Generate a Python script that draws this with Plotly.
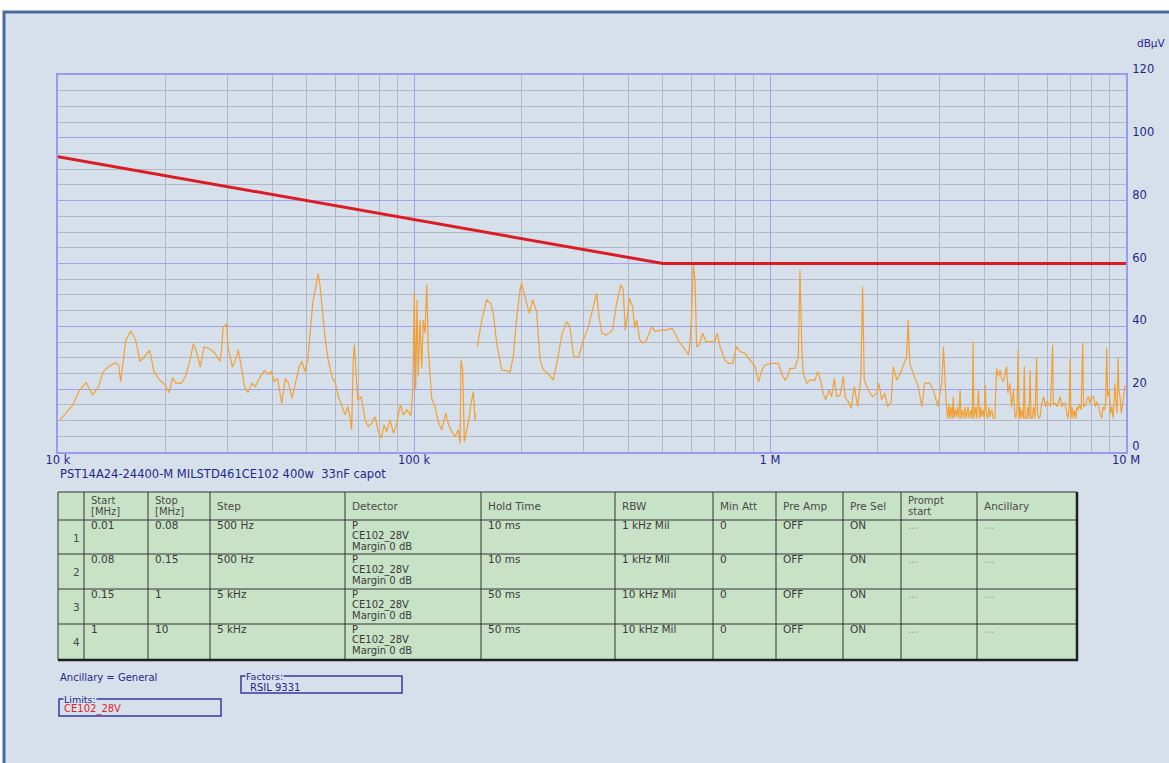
import plotly.graph_objs as go

W, H = 1169, 763
# plot area in page pixels
L, R, T, B = 58, 1126, 75, 452

# limit line CE102_28V (Hz, dBuV)
limit_freq = [1e4, 5e5, 1e7]
limit_db = [94, 60, 60]

# measured trace, band 1+2 (0.01 - 0.15 MHz), kHz
band12_khz = [10.1, 10.6, 11.0, 11.5, 12.0, 12.5, 13.0, 13.4, 13.9, 14.5,
              14.8, 15.0, 15.5, 16.0, 16.5, 17.0, 17.6, 18.1, 18.6, 19.3,
              20.0, 20.5, 21.0, 21.4, 22.2, 22.8, 23.5, 24.0, 24.5, 25.1,
              25.7, 26.8, 27.6, 28.5, 28.8, 29.1, 29.8, 30.0, 30.9, 31.8,
              32.1, 32.8, 33.5, 34.2, 35.0, 35.8, 37.0, 38.0, 39.0, 39.7,
              40.5, 41.4, 42.5, 43.5, 44.4, 45.4, 46.4, 47.6, 48.4, 49.4,
              50.3, 51.0, 52.0, 53.2, 53.8, 54.5, 55.2, 56.2, 57.4, 59.0,
              60.0, 61.3, 62.6, 64.0, 65.1, 66.1, 66.8, 67.5, 68.0, 68.6,
              69.5, 71.0, 72.9, 74.4, 76.0, 77.7, 79.4, 81.0, 82.4, 83.8,
              85.7, 87.6, 89.5, 91.5, 93.4, 95.5, 98.0, 99.2, 100.2, 101.1,
              102.0, 102.8, 104.0, 105.1, 106.2, 107.4, 108.6, 109.7, 112.1, 114.6,
              117.0, 119.6, 122.8, 124.8, 127.6, 130.3, 133.2, 134.7, 135.5, 137.0,
              138.5, 140.6, 143.0, 144.6, 146.8, 148.4, 149.0]
band12_db = [10.0, 12.8, 15.0, 19.7, 22.1, 18.1, 20.8, 25.6, 27.2, 28.4,
             27.7, 22.4, 35.6, 38.5, 35.9, 28.8, 30.9, 32.3, 25.6, 22.9,
             21.3, 18.9, 23.7, 21.9, 21.9, 24.0, 29.3, 34.4, 31.9, 27.0,
             33.5, 32.7, 31.4, 28.8, 32.5, 39.7, 40.7, 33.5, 27.0, 30.6,
             32.5, 26.1, 20.3, 18.9, 21.9, 20.8, 24.0, 25.9, 24.8, 25.6,
             22.4, 23.4, 15.5, 23.4, 21.9, 17.1, 21.9, 27.2, 28.8, 25.6,
             29.3, 36.7, 47.9, 53.7, 56.7, 52.6, 45.2, 36.7, 29.3, 23.4,
             22.4, 17.6, 15.0, 11.8, 14.4, 11.2, 7.0, 29.3, 34.1, 28.2,
             16.6, 17.6, 10.2, 8.1, 9.1, 11.2, 6.5, 4.4, 8.6, 6.5,
             10.2, 5.9, 9.1, 15.0, 11.8, 13.4, 11.5, 19.7, 51.0, 19.7,
             48.4, 24.0, 42.0, 26.6, 42.0, 37.8, 53.2, 32.5, 17.1, 14.4,
             9.7, 7.0, 12.3, 9.1, 6.5, 4.9, 7.0, 2.8, 29.3, 26.1,
             3.3, 7.0, 11.2, 15.5, 19.2, 10.2, 12.3]

# band 3 (0.15 - 1 MHz), kHz
band3_khz = [150.6, 155, 160, 164.2, 167, 170.7, 176.4, 182.2, 186, 190,
             194.5, 198.5, 200.6, 205, 210.8, 215.5, 221, 226, 231, 238,
             246, 253, 260, 268.5, 274, 281, 290, 299, 309, 319,
             326, 331, 337, 347, 361, 371, 381, 387, 392, 396,
             403, 411, 417, 422, 431, 441, 450, 465, 476, 492,
             513, 530, 541, 555, 570, 590, 596, 602, 609, 616,
             622, 633, 647, 661, 678, 701, 711, 724, 747, 763,
             787, 804, 827, 850, 880, 908, 929, 950, 968, 995]
band3_db = [33.5, 42.0, 48.4, 47.3, 44.1, 34.6, 26.1, 25.9, 25.3, 30.3,
            43.1, 51.6, 53.7, 49.4, 44.1, 48.4, 44.7, 29.3, 26.1, 25.0,
            22.9, 29.3, 37.2, 41.5, 39.9, 30.3, 30.3, 35.6, 39.9, 46.3,
            50.5, 43.1, 37.8, 37.2, 38.8, 47.3, 53.2, 51.6, 38.8, 42.0,
            48.9, 46.3, 39.4, 42.0, 35.6, 34.6, 35.6, 39.9, 38.3, 38.8,
            38.8, 39.4, 37.8, 35.1, 33.5, 30.9, 34.6, 43.1, 59.5, 54.7,
            33.5, 34.1, 37.8, 35.1, 35.1, 35.4, 37.8, 33.5, 29.3, 28.2,
            28.2, 33.5, 31.9, 31.4, 29.3, 27.2, 22.4, 26.1, 27.7, 28.2]

# band 4 (1 - 10 MHz), MHz
band4_mhz = [1.006, 1.055, 1.079, 1.102, 1.121, 1.138, 1.175, 1.201, 1.214, 1.228,
             1.24, 1.268, 1.295, 1.338, 1.361, 1.382, 1.411, 1.433, 1.465, 1.49,
             1.516, 1.54, 1.574, 1.607, 1.625, 1.66, 1.689, 1.725, 1.764, 1.8,
             1.82, 1.84, 1.89, 1.94, 1.995, 2.02, 2.06, 2.1, 2.14, 2.19,
             2.22, 2.27, 2.32, 2.38, 2.42, 2.445, 2.47, 2.545, 2.61, 2.67,
             2.72, 2.81, 2.88, 2.96, 3.04, 3.07, 3.1, 3.13, 3.16, 3.18,
             3.2, 3.23, 3.25, 3.27, 3.29, 3.31, 3.34, 3.36, 3.39, 3.42,
             3.44, 3.47, 3.5, 3.53, 3.56, 3.6, 3.63, 3.67, 3.7, 3.72,
             3.74, 3.78, 3.81, 3.85, 3.88, 3.91, 3.93, 3.97, 4.0, 4.02,
             4.05, 4.09, 4.12, 4.15, 4.2, 4.24, 4.28, 4.31, 4.33, 4.38,
             4.43, 4.47, 4.52, 4.57, 4.62, 4.66, 4.72, 4.77, 4.83, 4.87,
             4.9, 4.94, 4.98, 5.01, 5.04, 5.07, 5.11, 5.15, 5.18, 5.21,
             5.26, 5.3, 5.34, 5.38, 5.41, 5.45, 5.5, 5.55, 5.61, 5.64,
             5.69, 5.74, 5.8, 5.87, 5.94, 6.0, 6.06, 6.14, 6.22, 6.25,
             6.33, 6.4, 6.46, 6.53, 6.6, 6.67, 6.74, 6.8, 6.86, 6.92,
             6.97, 7.0, 7.05, 7.11, 7.17, 7.23, 7.28, 7.32, 7.4, 7.48,
             7.56, 7.6, 7.7, 7.77, 7.84, 7.92, 8.0, 8.1, 8.2, 8.28,
             8.36, 8.45, 8.55, 8.62, 8.7, 8.77, 8.83, 8.88, 8.97, 9.05,
             9.12, 9.2, 9.26, 9.31, 9.38, 9.44, 9.5, 9.55, 9.62, 9.7,
             9.76, 9.85, 9.94]
band4_db = [28.2, 28.2, 25.0, 22.9, 24.0, 26.6, 26.6, 30.3, 57.9, 33.5,
            25.0, 21.9, 22.9, 22.9, 25.6, 23.4, 18.7, 16.6, 19.7, 17.6,
            23.4, 17.6, 18.1, 24.0, 17.6, 16.0, 13.9, 20.8, 14.4, 24.0,
            52.6, 22.9, 19.7, 17.6, 18.7, 21.9, 16.6, 18.7, 14.4, 16.0,
            27.2, 22.9, 25.0, 28.2, 30.3, 42.0, 28.2, 24.0, 20.8, 14.4,
            21.9, 21.9, 19.7, 14.4, 22.4, 33.5, 20.8, 14.4, 10.7, 15.5,
            10.7, 14.4, 10.7, 17.6, 10.7, 13.4, 11.2, 14.4, 10.7, 19.7,
            10.7, 13.4, 10.7, 14.4, 10.7, 14.4, 10.7, 13.4, 10.7, 35.1,
            10.7, 14.4, 10.7, 19.7, 10.7, 14.4, 11.2, 13.4, 10.7, 21.3,
            12.3, 10.7, 14.4, 11.2, 13.4, 10.7, 10.7, 20.8, 26.6, 24.0,
            26.1, 23.4, 22.4, 24.5, 27.2, 18.7, 21.9, 14.4, 19.7, 12.3,
            10.7, 13.4, 32.5, 10.7, 14.4, 10.7, 13.4, 10.7, 27.2, 10.7,
            10.7, 14.4, 10.7, 26.1, 10.7, 10.7, 14.4, 10.7, 29.8, 12.3,
            10.7, 11.2, 15.5, 17.6, 14.4, 16.0, 15.5, 14.4, 34.1, 15.0,
            15.5, 14.4, 16.0, 17.6, 14.4, 15.5, 15.5, 12.3, 10.7, 13.4,
            29.8, 10.7, 14.4, 10.7, 13.4, 10.7, 14.4, 13.4, 15.0, 13.4,
            34.8, 14.4, 15.0, 16.6, 17.6, 15.5, 17.6, 17.6, 14.4, 16.0,
            15.0, 12.3, 10.7, 14.4, 13.4, 15.5, 33.0, 17.6, 19.7, 12.3,
            14.4, 10.7, 16.6, 21.9, 15.5, 12.3, 29.8, 19.7, 17.6, 12.3,
            14.4, 18.7, 21.3]

y_ticks = [0, 20, 40, 60, 80, 100, 120]
x_ticks = [1e4, 1e5, 1e6, 1e7]
x_ticktext = ["10 k", "100 k", "1 M", "10 M"]

caption = "PST14A24-24400-M MILSTD461CE102 400w  33nF capot"

header = [[""], ["Start", "[MHz]"], ["Stop", "[MHz]"], ["Step"], ["Detector"], ["Hold Time"],
          ["RBW"], ["Min Att"], ["Pre Amp"], ["Pre Sel"], ["Prompt", "start"], ["Ancillary"]]
row_no = ["1", "2", "3", "4"]
start_mhz = ["0.01", "0.08", "0.15", "1"]
stop_mhz = ["0.08", "0.15", "1", "10"]
step = ["500 Hz", "500 Hz", "5 kHz", "5 kHz"]
detector = [["P", "CE102_28V", "Margin 0 dB"]] * 4
hold_time = ["10 ms", "10 ms", "50 ms", "50 ms"]
rbw = ["1 kHz Mil", "1 kHz Mil", "10 kHz Mil", "10 kHz Mil"]
min_att = ["0", "0", "0", "0"]
pre_amp = ["OFF", "OFF", "OFF", "OFF"]
pre_sel = ["ON", "ON", "ON", "ON"]
prompt = ["...", "...", "...", "..."]
ancillary = ["...", "...", "...", "..."]

BG = "#D6E0EB"
NAVY = "#26268A"
FONT = "DejaVu Sans"


# page pixels -> paper coords (paper = plot area)
def px(x):
    return (x - L) / (R - L)


def py(y):
    return (B - y) / (B - T)


# merge trace bands, gap between band 2 and 3
trace_f = [f * 1e3 for f in band12_khz] + [None] + [f * 1e3 for f in band3_khz] + [f * 1e6 for f in band4_mhz]
trace_db = band12_db + [None] + band3_db + band4_db

fig = go.Figure()
fig.add_trace(go.Scatter(x=trace_f, y=trace_db, mode='lines', connectgaps=False,
                         line=dict(color="#F2A033", width=1.2), name="Peak"))
fig.add_trace(go.Scatter(x=limit_freq, y=limit_db, mode='lines',
                         line=dict(color="#DC1C24", width=3), name="CE102_28V"))

shapes = []
annots = []

# outer frame
shapes.append(dict(type="rect", xref="paper", yref="paper", x0=px(4), x1=px(1180), y0=py(12), y1=py(790),
                   fillcolor=BG, line=dict(color="#4A6A9C", width=3), layer="below"))


def text(x, y, s, color="#3A3A3A", size=10.5, xanchor="left", bg=None):
    a = dict(xref="paper", yref="paper", x=px(x), y=py(y), text=s, showarrow=False,
             xanchor=xanchor, yanchor="middle", font=dict(family=FONT, size=size, color=color))
    if bg:
        a["bgcolor"] = bg
        a["borderpad"] = 0
    annots.append(a)


def hline(x0, x1, y, color="#333333", width=1):
    shapes.append(dict(type="line", xref="paper", yref="paper", x0=px(x0), x1=px(x1), y0=py(y), y1=py(y),
                       line=dict(color=color, width=width)))


def vline(x, y0, y1, color="#333333", width=1):
    shapes.append(dict(type="line", xref="paper", yref="paper", x0=px(x), x1=px(x), y0=py(y0), y1=py(y1),
                       line=dict(color=color, width=width)))


# table
cols = [58, 84, 148, 210, 345, 481, 615, 713, 776, 843, 901, 977, 1077]
rows = [492, 520, 554, 589, 624, 660]
shapes.append(dict(type="rect", xref="paper", yref="paper", x0=px(cols[0]), x1=px(cols[-1]),
                   y0=py(rows[0]), y1=py(rows[-1]), fillcolor="#C8E2C6", line=dict(width=0)))
for c in cols:
    vline(c, rows[0], rows[-1])
for r in rows:
    hline(cols[0], cols[-1], r)
hline(cols[0], cols[-1] + 1, rows[-1], color="#1E1E1E", width=2.5)
vline(cols[-1], rows[0], rows[-1] + 1, color="#1E1E1E", width=2.5)

for i, h in enumerate(header):
    if len(h) == 1:
        text(cols[i] + 5, 506, h[0], color="#4A4A4A")
    else:
        text(cols[i] + 5, 500, h[0], color="#4A4A4A", size=10)
        text(cols[i] + 5, 511, h[1], color="#4A4A4A", size=10)

for j in range(4):
    top = rows[j + 1]
    text(cols[1] - 2, top + 18, row_no[j], color="#4A4A4A", xanchor="right")
    vals = [start_mhz[j], stop_mhz[j], step[j], None, hold_time[j], rbw[j],
            min_att[j], pre_amp[j], pre_sel[j], prompt[j], ancillary[j]]
    for k, v in enumerate(vals):
        x = cols[k + 1] + 5
        if v is None:
            for n, line in enumerate(detector[j]):
                text(x, top + 5 + 10.5 * n, line, color="#3A3A3A", size=10)
        elif v == "...":
            text(x, top + 5, v, color="#9A9A9A")
        else:
            text(x, top + 5, v, color="#3A3A3A")

# caption and info boxes
text(58, 474, caption, color=NAVY, size=11.5)
text(1151, 43, "dBµV", color=NAVY, size=10.5, xanchor="center")
text(58, 677, "Ancillary = General", color=NAVY, size=10)

shapes.append(dict(type="rect", xref="paper", yref="paper", x0=px(241), x1=px(402), y0=py(676), y1=py(693),
                   line=dict(color="#3838A0", width=1.5)))
text(245, 676, "Factors:", color=NAVY, size=9.5, bg=BG)
text(248, 687, "RSIL 9331", color=NAVY, size=10)

shapes.append(dict(type="rect", xref="paper", yref="paper", x0=px(59), x1=px(221), y0=py(699), y1=py(716),
                   line=dict(color="#3838A0", width=1.5)))
text(63, 699, "Limits:", color=NAVY, size=9.5, bg=BG)
text(62, 709, "CE102_28V", color="#E0262A", size=10)

fig.update_layout(
    width=W, height=H,
    margin=dict(l=L, r=W - R, t=T, b=H - B, autoexpand=False),
    paper_bgcolor="white",
    plot_bgcolor=BG,
    showlegend=False,
    shapes=shapes,
    annotations=annots,
    xaxis=dict(type="log", range=[4, 7], automargin=False,
               tickvals=x_ticks, ticktext=x_ticktext, ticks="", ticklen=0, ticklabelstandoff=-4,
               showgrid=True, gridcolor="#A2A2F0", gridwidth=1,
               minor=dict(dtick="D1", showgrid=True, gridcolor="#B4B6C4", gridwidth=1),
               showline=True, mirror=True, linecolor="#9A9AEE", linewidth=2, zeroline=False,
               tickfont=dict(family=FONT, size=11.5, color=NAVY)),
    yaxis=dict(range=[0, 120], side="right", automargin=False,
               tickvals=y_ticks, ticks="", ticklen=0, ticklabelshift=-6, ticklabelstandoff=2,
               showgrid=True, gridcolor="#A2A2F0", gridwidth=1,
               minor=dict(dtick=5, showgrid=True, gridcolor="#B4B6C4", gridwidth=1),
               showline=True, mirror=True, linecolor="#9A9AEE", linewidth=2, zeroline=False,
               tickfont=dict(family=FONT, size=11.5, color=NAVY)),
)

# page body margin would shift the figure by 8px
fig.write_html("out.html", config={"displayModeBar": False},
               post_script="document.body.style.margin='0';")
